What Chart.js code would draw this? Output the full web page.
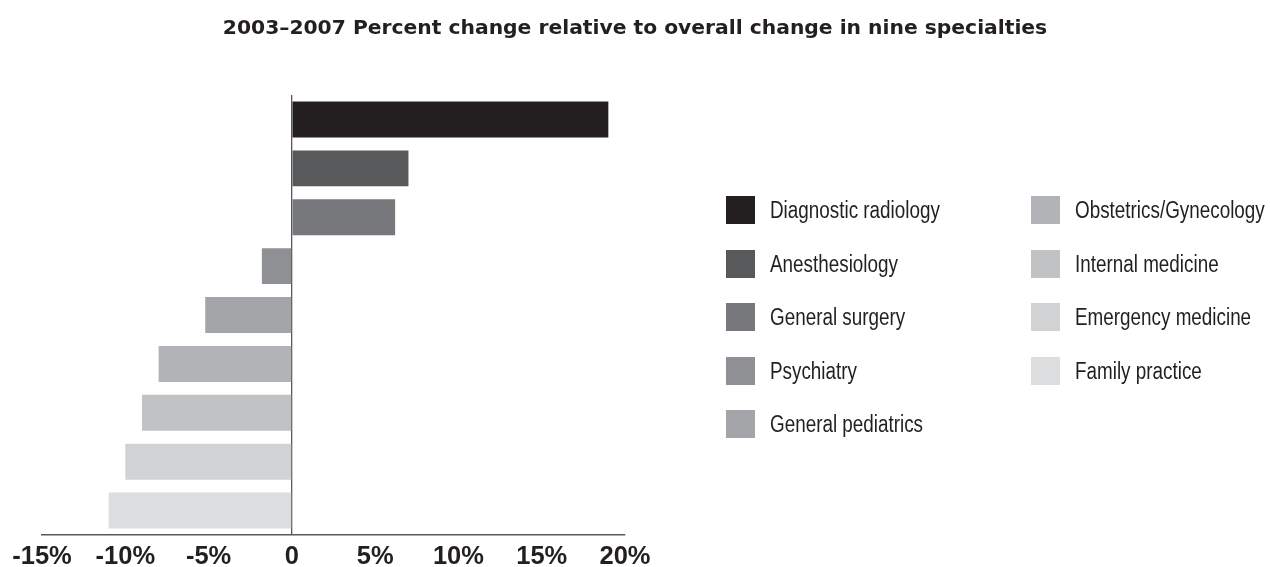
<!DOCTYPE html>
<html>
<head>
<meta charset="utf-8">
<script src="https://cdn.jsdelivr.net/npm/chart.js@4.4.1/dist/chart.umd.min.js"></script>
<style>
  html, body { margin: 0; padding: 0; background: #ffffff; }
  #wrap { position: relative; width: 1270px; height: 567px; overflow: hidden; }
  #chart { position: absolute; left: 0; top: 0; }
  #legend {
    position: absolute; left: 726px; top: 196px;
    display: grid; grid-auto-flow: column;
    grid-template-rows: repeat(5, 53.5px);
    grid-template-columns: 305px 239px;
    margin: 0; padding: 0; list-style: none;
  }
  #legend li { display: flex; align-items: center; height: 28px; white-space: nowrap; }
  #legend .sw { width: 29px; height: 28px; margin-right: 15px; flex: none; }
  #legend .tx {
    display: inline-block;
    font-family: "Liberation Sans", Arial, sans-serif;
    font-size: 23px; color: #231f20; line-height: 28px;
    transform: scaleX(0.82); transform-origin: 0 50%;
  }
</style>
</head>
<body>
<div id="wrap">
  <canvas id="chart" width="1270" height="567"></canvas>
  <ul id="legend"></ul>
</div>
<script>
// Nine specialties, 2003–2007 change relative to the overall change (%)
const specialties = [
  'Diagnostic radiology',
  'Anesthesiology',
  'General surgery',
  'Psychiatry',
  'General pediatrics',
  'Obstetrics/Gynecology',
  'Internal medicine',
  'Emergency medicine',
  'Family practice'
];
const percentChange = [19, 7, 6.2, -1.8, -5.2, -8, -9, -10, -11];
const barColors = [
  '#231f20', '#58595b', '#77787b', '#8f9094', '#a4a5a8',
  '#b1b3b6', '#c1c2c4', '#d1d2d4', '#dcdddf'
];
const xMin = -15;
const xMax = 20;
const xStep = 5;
const titleText = '2003–2007 Percent change relative to overall change in nine specialties';

// Builds the two-column legend from the chart's own labels and colours
const htmlLegend = {
  id: 'htmlLegend',
  afterUpdate(chart) {
    const ul = document.getElementById('legend');
    ul.innerHTML = '';
    const ds = chart.data.datasets[0];
    chart.data.labels.forEach((label, i) => {
      const li = document.createElement('li');
      const sw = document.createElement('span');
      sw.className = 'sw';
      sw.style.background = ds.backgroundColor[i];
      const tx = document.createElement('span');
      tx.className = 'tx';
      tx.textContent = label;
      li.appendChild(sw);
      li.appendChild(tx);
      ul.appendChild(li);
    });
  }
};

// Hidden category axes used only to reserve space left and right of the plot
const spacerAxis = (pos, width) => ({
  type: 'category',
  position: pos,
  display: true,
  ticks: { display: false },
  grid: { display: false },
  border: { display: false },
  afterFit: (s) => { s.width = width; }
});

new Chart(document.getElementById('chart'), {
  type: 'bar',
  data: {
    labels: specialties,
    datasets: [{
      data: percentChange,
      backgroundColor: barColors,
      borderWidth: 0,
      categoryPercentage: 1,
      barPercentage: 0.735,
      yAxisID: 'y'
    }]
  },
  options: {
    indexAxis: 'y',
    responsive: false,
    animation: false,
    layout: { padding: 0 },
    plugins: {
      legend: { display: false },
      tooltip: { enabled: false },
      title: {
        display: true,
        text: titleText,
        color: '#231f20',
        font: { family: 'DejaVu Sans', weight: 'bold', size: 20.3, lineHeight: 1.2 },
        padding: { top: 16.5, bottom: 54.2 }
      }
    },
    scales: {
      x: {
        min: xMin,
        max: xMax,
        border: { display: true, color: '#58595b', width: 1.5 },
        grid: {
          drawTicks: false,
          lineWidth: 1.3,
          color: (ctx) => (ctx.tick && ctx.tick.value === 0 ? '#58595b' : 'rgba(0,0,0,0)')
        },
        ticks: {
          stepSize: xStep,
          padding: 9,
          color: '#231f20',
          font: { family: '"Liberation Sans", Arial, sans-serif', weight: 'bold', size: 25.5, lineHeight: 1 },
          callback: (v) => (v === 0 ? '0' : v + '%')
        },
        afterFit: (s) => { s.height = 32; }
      },
      y: spacerAxis('left', 42),
      yRight: spacerAxis('right', 645)
    }
  },
  plugins: [htmlLegend]
});
</script>
</body>
</html>
